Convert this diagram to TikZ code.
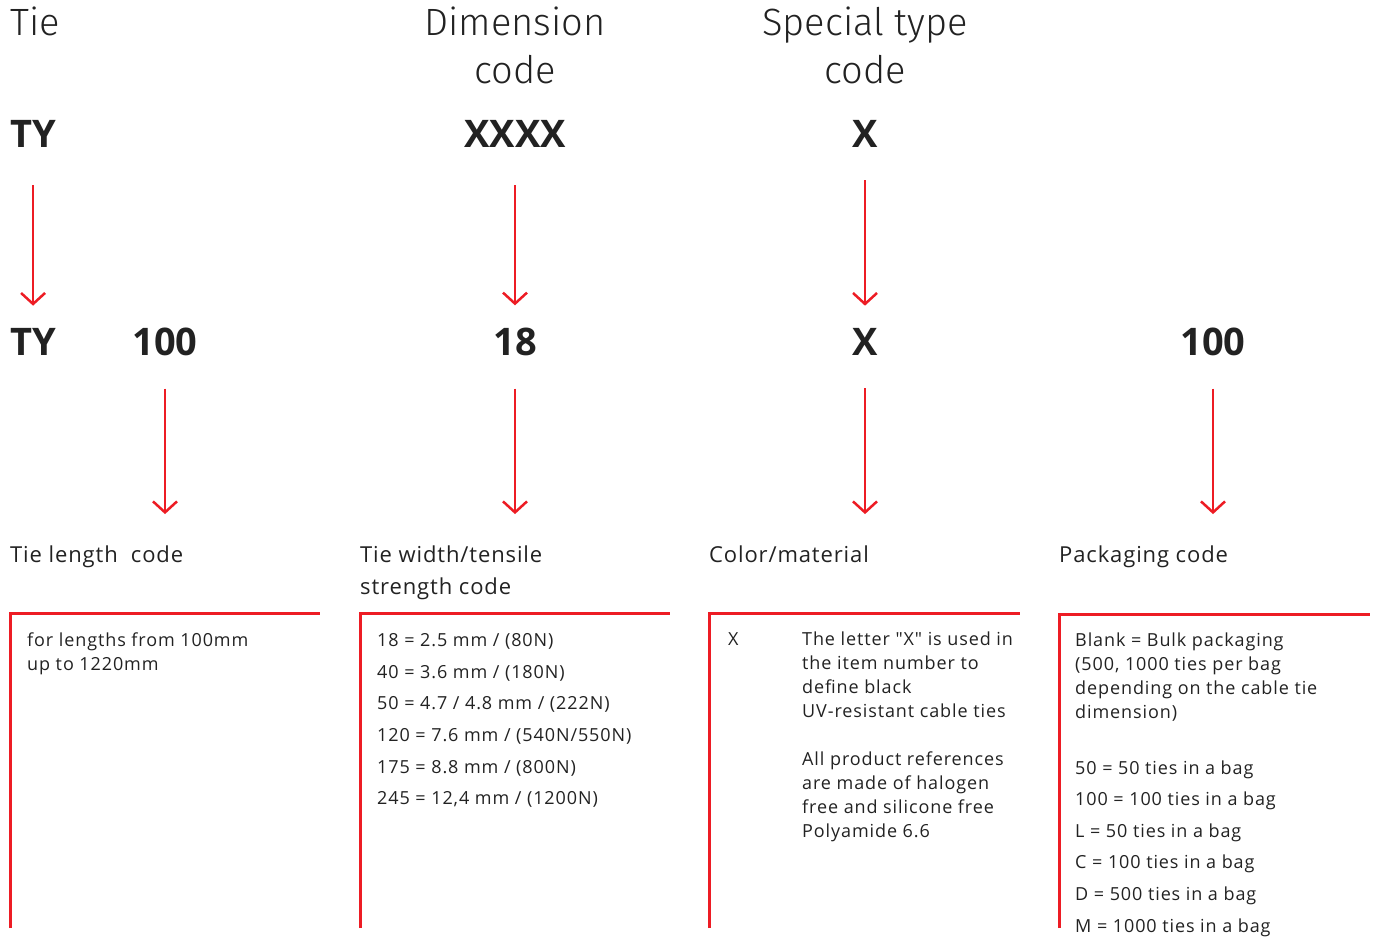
\documentclass[tikz,border=0pt]{standalone}
\usepackage{fontspec}
\setmainfont{Open Sans}
\newfontfamily\lightfont{Fira Sans Light}
\newfontfamily\bodyfont{Open Sans}[LetterSpace=5]
\newfontfamily\labfont{Open Sans}[LetterSpace=4]
\usetikzlibrary{arrows.meta}
\definecolor{abbred}{RGB}{237,28,36}
\definecolor{ink}{RGB}{34,34,34}
\begin{document}
\begin{tikzpicture}[x=1pt,y=-1pt,
 head/.style={font=\lightfont\fontsize{38}{38}\selectfont, text=ink, inner sep=0},
 code/.style={font=\bfseries\fontsize{38}{38}\selectfont, text=ink, inner sep=0},
 lab/.style={font=\labfont\fontsize{22}{22}\selectfont, text=ink, inner sep=0, anchor=base west},
 body/.style={font=\bodyfont\fontsize{18}{18}\selectfont, text=ink, inner sep=0, anchor=base west},
 arr/.style={draw=abbred, line width=2.5pt, -{Straight Barb[length=11pt,width=24pt,line width=2.5pt]}},
 bracket/.style={draw=abbred, line width=3pt}]
\useasboundingbox (0,0) rectangle (1378,937);

% headings
\node[head, anchor=base west] (hTie) at (10,35) {Tie};
\node[head, anchor=base] (hDim1) at (515,35) {Dimension};
\node[head, anchor=base] (hDim2) at (515,83) {code};
\node[head, anchor=base] (hSp1) at (865,35) {Special type};
\node[head, anchor=base] (hSp2) at (865,83) {code};

% codes
\node[code, anchor=base west] (ty1) at (10,147) {TY};
\node[code, anchor=base] (xxxx) at (515,147) {XXXX};
\node[code, anchor=base] (x1) at (865,147) {X};
\node[code, anchor=base west] (ty2) at (10,355) {TY};
\node[code, anchor=base] (n100) at (165,355) {100};
\node[code, anchor=base] (n18) at (515,355) {18};
\node[code, anchor=base] (x2) at (865,355) {X};
\node[code, anchor=base] (p100) at (1213,355) {100};

% labels
\node[lab] (lab1) at (10,562) {Tie length~ code};
\node[lab] (lab2a) at (360,562) {Tie width/tensile};
\node[lab] (lab2b) at (360,594) {strength code};
\node[lab] (lab3) at (709,562) {Color/material};
\node[lab] (lab4) at (1059,562) {Packaging code};

% arrows
\draw[arr] ([yshift=-38pt]ty1.south) -- ([yshift=22pt]ty2.north);
\draw[arr] ([yshift=-38pt]xxxx.south) -- ([yshift=22pt]n18.north);
\draw[arr] ([yshift=-33pt]x1.south) -- ([yshift=22pt]x2.north);
\draw[arr] ([yshift=-33pt]n100.south) -- ([yshift=31pt]n100.south |- lab1.north);
\draw[arr] ([yshift=-33pt]n18.south) -- ([yshift=31pt]n18.south |- lab2a.north);
\draw[arr] ([yshift=-33pt]x2.south) -- ([yshift=31pt]x2.south |- lab3.north);
\draw[arr] ([yshift=-33pt]p100.south) -- ([yshift=31pt]p100.south |- lab4.north);

% brackets
\draw[bracket] (10,928) -- (10,613) -- (320,613);
\draw[bracket] (360,928) -- (360,613) -- (670,613);
\draw[bracket] (709,928) -- (709,613) -- (1020,613);
\draw[bracket] (1059,928) -- (1059,614) -- (1370,614);

% box 1
\node[body] (b1a) at (27,646) {for lengths from 100mm};
\node[body] (b1b) at (27,670) {up to 1220mm};

% box 2
\node[body] (b2a) at (377,646) {18 = 2.5 mm / (80N)};
\node[body] (b2b) at (377,678) {40 = 3.6 mm / (180N)};
\node[body] (b2c) at (377,709) {50 = 4.7 / 4.8 mm / (222N)};
\node[body] (b2d) at (377,741) {120 = 7.6 mm / (540N/550N)};
\node[body] (b2e) at (377,773) {175 = 8.8 mm / (800N)};
\node[body] (b2f) at (377,804) {245 = 12,4 mm / (1200N)};

% box 3
\node[body] (b3x) at (728,645) {X};
\node[body] (b3a) at (802,645) {The letter \symbol{34}X\symbol{34} is used in};
\node[body] (b3b) at (802,669) {the item number to};
\node[body] (b3c) at (802,693) {define black};
\node[body] (b3d) at (802,717) {UV-resistant cable ties};
\node[body] (b3e) at (802,765) {All product references};
\node[body] (b3f) at (802,789) {are made of halogen};
\node[body] (b3g) at (802,813) {free and silicone free};
\node[body] (b3h) at (802,837) {Polyamide 6.6};

% box 4
\node[body] (b4a) at (1075,646) {Blank = Bulk packaging};
\node[body] (b4b) at (1075,670) {(500, 1000 ties per bag};
\node[body] (b4c) at (1075,694) {depending on the cable tie};
\node[body] (b4d) at (1075,718) {dimension)};
\node[body] (b4e) at (1075,774) {50 = 50 ties in a bag};
\node[body] (b4f) at (1075,805) {100 = 100 ties in a bag};
\node[body] (b4g) at (1075,837) {L = 50 ties in a bag};
\node[body] (b4h) at (1075,868) {C = 100 ties in a bag};
\node[body] (b4i) at (1075,900) {D = 500 ties in a bag};
\node[body] (b4j) at (1075,932) {M = 1000 ties in a bag};
\end{tikzpicture}
\end{document}
